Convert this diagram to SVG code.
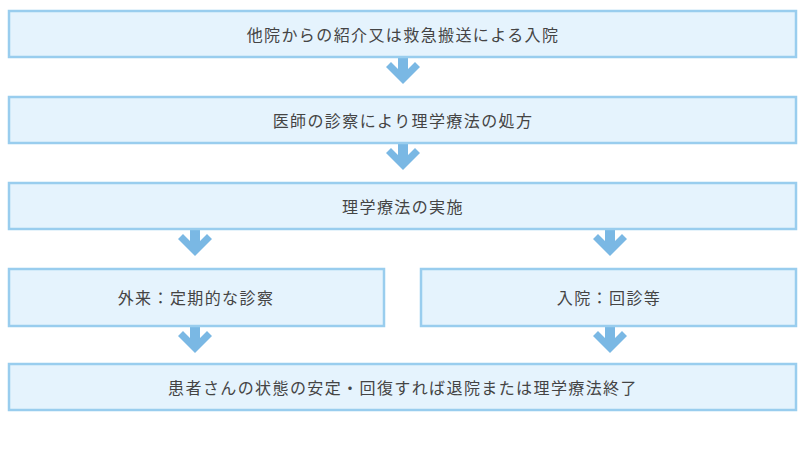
<svg xmlns="http://www.w3.org/2000/svg" width="798" height="473" viewBox="0 0 798 473">
<defs>
<style>
.b{fill:#e5f3fd;stroke:#99cdee;stroke-width:2.5}
.t{font-family:"Noto Sans CJK JP","Noto Sans",sans-serif;font-size:16px;letter-spacing:1.4px;fill:#444;text-anchor:middle;dominant-baseline:central}
.a{fill:#7ab8e4}
</style>
<polygon id="arr" class="a" points="-5,0 5,0 5,12 12,5 17,10 0,27 -17,10 -12,5 -5,12"/>
</defs>
<rect width="798" height="473" fill="#fff"/>
<g id="connectors">
<use href="#arr" x="403" y="57"/>
<use href="#arr" x="403" y="143"/>
<use href="#arr" x="195" y="229"/>
<use href="#arr" x="610" y="229"/>
<use href="#arr" x="195" y="326"/>
<use href="#arr" x="610" y="326"/>
</g>
<g id="n1"><rect class="b" x="9" y="11" width="787" height="46"/><text class="t" x="403" y="34">他院からの紹介又は救急搬送による入院</text></g>
<g id="n2"><rect class="b" x="9" y="97" width="787" height="46"/><text class="t" x="403" y="120">医師の診察により理学療法の処方</text></g>
<g id="n3"><rect class="b" x="9" y="183" width="787" height="46"/><text class="t" x="403" y="206">理学療法の実施</text></g>
<g id="n4"><rect class="b" x="9" y="269" width="375" height="57"/><text class="t" x="196" y="297">外来：定期的な診察</text></g>
<g id="n5"><rect class="b" x="421" y="269" width="375" height="57"/><text class="t" x="609" y="297">入院：回診等</text></g>
<g id="n6"><rect class="b" x="9" y="364" width="787" height="46"/><text class="t" x="403" y="387">患者さんの状態の安定・回復すれば退院または理学療法終了</text></g>
</svg>
